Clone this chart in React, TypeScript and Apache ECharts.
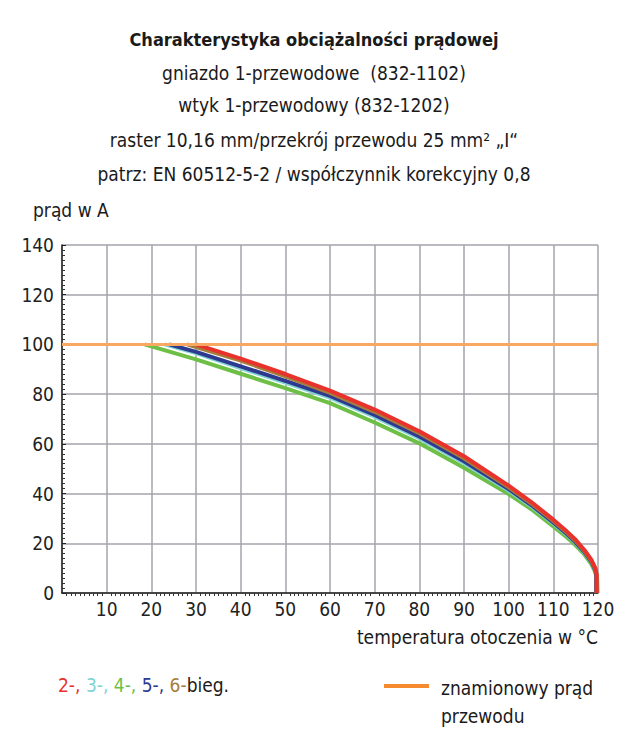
import React, { useEffect, useRef } from "react";
import * as echarts from "echarts";

const titleLines = [
  "Charakterystyka obciążalności prądowej",
  "gniazdo 1-przewodowe  (832-1102)",
  "wtyk 1-przewodowy (832-1202)",
  "raster 10,16 mm/przekrój przewodu 25 mm² „I“",
  "patrz: EN 60512-5-2 / współczynnik korekcyjny 0,8",
];
const yAxisName = "prąd w A";
const xAxisName = "temperatura otoczenia w °C";

const red2: number[][] = [[30,100],[40,94.3],[50,88.1],[60,81.4],[70,73.8],[80,65.1],[90,55.0],[100,43.2],[105,36.7],[110,29.5],[113,24.8],[115,21.4],[117,17.2],[118.5,13.4],[119.4,10],[119.7,7.5],[119.7,0]];
const brown6: number[][] = [[28,100],[40,93.5],[50,87.2],[60,80.5],[70,72.9],[80,64.3],[90,54.2],[100,42.5],[105,36.1],[110,29],[113,24.3],[115,20.9],[117,16.8],[118.5,13],[119.4,9.6],[119.7,7.2],[119.7,0]];
const blue5: number[][] = [[24,100],[30,97],[40,91.2],[50,85.3],[60,79.3],[70,71.6],[80,63],[90,53],[100,41.8],[105,35.5],[110,28.4],[113,23.8],[115,20.4],[117,16.4],[118.5,12.6],[119.4,9.2],[119.6,7],[119.6,0]];
const cyan3: number[][] = [[23,100],[30,96.5],[40,90.5],[50,84.6],[60,78.6],[70,70.9],[80,62.3],[90,52.3],[100,41.2],[105,35],[110,28],[113,23.4],[115,20.1],[117,16.1],[118.5,12.4],[119.4,9],[119.6,6.8],[119.6,0]];
const green4: number[][] = [[18.5,100],[30,94],[40,88.2],[50,82.4],[60,76.4],[70,68.6],[80,60.2],[90,50.4],[100,39.8],[105,33.8],[110,26.8],[113,22.4],[115,19.2],[117,15.4],[118.5,11.6],[119.4,8.4],[119.8,6],[119.9,0]];
const rated: number[][] = [[0,100],[120,100]];

const FONT = "'Liberation Sans Narrow', 'DejaVu Sans Condensed', 'Roboto', sans-serif";

export default function App() {
  const ref = useRef<HTMLDivElement>(null);
  useEffect(() => {
    const chart = echarts.init(ref.current!, null, { renderer: "svg" });
    const lineSeries = (name: string, data: number[][], color: string, width = 4) => ({
      name,
      type: "line",
      data,
      showSymbol: false,
      smooth: false,
      lineStyle: { color, width, join: "round" },
      itemStyle: { color },
      z: 3,
    });
    chart.setOption({
      animation: false,
      backgroundColor: "#ffffff",
      textStyle: { fontFamily: FONT },
      grid: { left: 62, right: 30, top: 245, bottom: 144, containLabel: false },
      xAxis: {
        type: "value",
        min: 0,
        max: 120,
        interval: 10,
        axisLine: { show: true, onZero: false, lineStyle: { color: "#222", width: 1.5 } },
        axisTick: { show: false },
        minorTick: { show: true, splitNumber: 10, length: 3, lineStyle: { color: "#333", width: 1 } },
        splitLine: { show: true, lineStyle: { color: "#a3a3ab", width: 1.5 } },
        axisLabel: {
          color: "#222",
          fontSize: 19,
          fontFamily: FONT,
          margin: 6,
          formatter: (v: number) => (v === 0 ? "" : String(v)),
        },
      },
      yAxis: {
        type: "value",
        min: 0,
        max: 140,
        interval: 20,
        axisLine: { show: true, lineStyle: { color: "#222", width: 1.5 } },
        axisTick: { show: true, inside: true, length: 4, lineStyle: { color: "#222" } },
        minorTick: { show: true, splitNumber: 10, length: 3, lineStyle: { color: "#333", width: 1 } },
        splitLine: { show: true, lineStyle: { color: "#a3a3ab", width: 1.5 } },
        axisLabel: { color: "#222", fontSize: 19, fontFamily: FONT, margin: 8 },
      },
      series: [
        lineSeries("4-", green4, "#6dbf45"),
        lineSeries("3-", cyan3, "#80d3d3"),
        lineSeries("5-", blue5, "#2e3a8f"),
        lineSeries("6-", brown6, "#a57d3c"),
        lineSeries("2-", red2, "#e8322b"),
        { ...lineSeries("rated", rated, "#f9a862", 3), z: 4 },
      ],
      graphic: [
        ...titleLines.map((t, i) => ({
          type: "text",
          left: "center",
          top: [30, 63, 95, 130, 164][i],
          style: {
            text: t,
            fontSize: i === 0 ? 18 : 19,
            fontWeight: i === 0 ? "bold" : "normal",
            fontFamily: FONT,
            fill: "#1a1a1a",
          },
        })),
        {
          type: "text",
          left: 33,
          top: 200,
          style: { text: yAxisName, fontSize: 19, fontFamily: FONT, fill: "#1a1a1a" },
        },
        {
          type: "text",
          right: 30,
          top: 627,
          style: { text: xAxisName, fontSize: 19, fontFamily: FONT, fill: "#1a1a1a" },
        },
        {
          type: "text",
          left: 58,
          top: 675,
          style: {
            text: "{r|2-}{r|, }{cy|3-}{cy|, }{g|4-}{g|, }{b|5-}{b|, }{br|6-}{k|bieg.}",
            fontSize: 19,
            fontFamily: FONT,
            rich: {
              r: { fill: "#e8322b", fontSize: 19, fontFamily: FONT },
              cy: { fill: "#80d3d3", fontSize: 19, fontFamily: FONT },
              g: { fill: "#6dbf45", fontSize: 19, fontFamily: FONT },
              b: { fill: "#2e3a8f", fontSize: 19, fontFamily: FONT },
              br: { fill: "#a57d3c", fontSize: 19, fontFamily: FONT },
              k: { fill: "#1a1a1a", fontSize: 19, fontFamily: FONT },
            },
          },
        },
        {
          type: "line",
          shape: { x1: 384, y1: 686, x2: 429, y2: 686 },
          style: { stroke: "#f58a2e", lineWidth: 4 },
        },
        {
          type: "text",
          left: 441,
          top: 674,
          style: { text: "znamionowy prąd\nprzewodu", fontSize: 19, lineHeight: 28, fontFamily: FONT, fill: "#1a1a1a" },
        },
      ],
    });
    return () => chart.dispose();
  }, []);
  return <div ref={ref} style={{ width: 628, height: 737, margin: -8 }} />;
}
